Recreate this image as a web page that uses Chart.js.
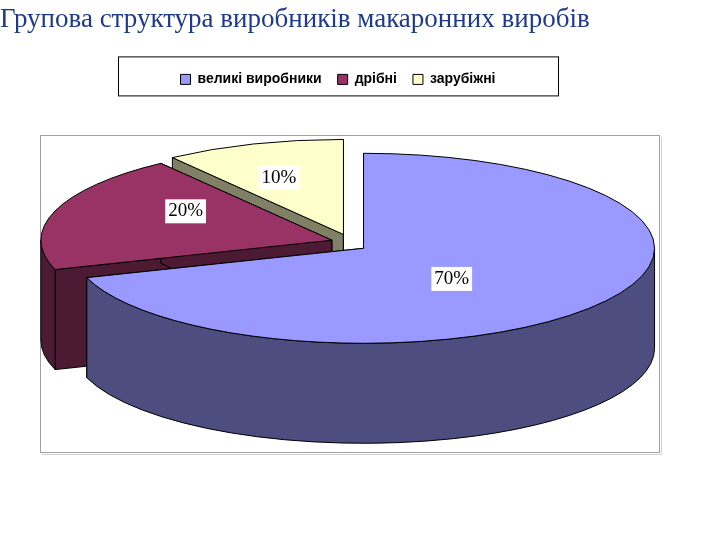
<!DOCTYPE html>
<html>
<head>
<meta charset="utf-8">
<script src="https://cdn.jsdelivr.net/npm/chart.js@4"></script>
<style>
  body { margin: 0; background: #fff; }
  #wrap { width: 720px; height: 540px; }
</style>
</head>
<body>
<div id="wrap"><canvas id="pie"></canvas></div>
<script>
// дані
const categories = ['великі виробники', 'дрібні', 'зарубіжні'];
const shares = [70, 20, 10];
const pctLabels = ['70%', '20%', '10%'];
const topColors = ['#9999FF', '#993366', '#FFFFCC'];
const sideColors = ['#4D4D80', '#4D1A33', '#808066'];

// геометрія "3D" еліпса
const geo = { cx: 349, cy: 243, rx: 291, ry: 95, depth: 100, explode: 18 };

function pt(a, cx, cy) {
    return [cx + geo.rx * Math.cos(a), cy + geo.ry * Math.sin(a)];
}

// рамка області побудови і легенди, малювання пирога
const framePlugin = {
    id: 'frame',
    beforeDraw(chart) {
        const ctx = chart.ctx;
        ctx.save();
        ctx.fillStyle = '#fff';
        ctx.fillRect(0, 0, chart.width, chart.height);
        ctx.strokeStyle = '#a0a0a0';
        ctx.lineWidth = 1;
        ctx.strokeRect(40.5, 135.5, 619, 317);
        ctx.strokeStyle = '#d0d0d0';
        ctx.beginPath();
        ctx.moveTo(42, 454.5); ctx.lineTo(661.5, 454.5); ctx.lineTo(661.5, 137);
        ctx.stroke();
        const lg = chart.legend;
        ctx.strokeStyle = '#000';
        ctx.strokeRect(118.5, lg.top + 0.5, 440, lg.height - 1);
        ctx.restore();
    },
    beforeDatasetDraw() { return false; },
    afterDraw(chart) {
        const ctx = chart.ctx;
        const arcs = chart.getDatasetMeta(0).data;
        const order = arcs.map((el, i) => i)
            .sort((a, b) => {
                const ma = (arcs[a].startAngle + arcs[a].endAngle) / 2;
                const mb = (arcs[b].startAngle + arcs[b].endAngle) / 2;
                return Math.sin(ma) - Math.sin(mb);
            });
        ctx.save();
        ctx.lineWidth = 1;
        ctx.strokeStyle = '#000';
        order.forEach(i => {
            const el = arcs[i];
            const s = el.startAngle, e = el.endAngle, m = (s + e) / 2;
            const cx = geo.cx + geo.explode * Math.cos(m);
            const cy = geo.cy + geo.explode * 0.5 * Math.sin(m);
            const d = geo.depth;
            ctx.fillStyle = sideColors[i];
            [s, e].forEach(a => {
                const p = pt(a, cx, cy);
                ctx.beginPath();
                ctx.moveTo(cx, cy); ctx.lineTo(p[0], p[1]);
                ctx.lineTo(p[0], p[1] + d); ctx.lineTo(cx, cy + d);
                ctx.closePath(); ctx.fill(); ctx.stroke();
            });
            const a0 = Math.max(s, 0), a1 = Math.min(e, Math.PI);
            if (a1 > a0) {
                ctx.beginPath();
                ctx.ellipse(cx, cy, geo.rx, geo.ry, 0, a0, a1);
                ctx.ellipse(cx, cy + d, geo.rx, geo.ry, 0, a1, a0, true);
                ctx.closePath(); ctx.fill(); ctx.stroke();
            }
            ctx.fillStyle = topColors[i];
            ctx.beginPath();
            ctx.moveTo(cx, cy);
            ctx.ellipse(cx, cy, geo.rx, geo.ry, 0, s, e);
            ctx.closePath(); ctx.fill(); ctx.stroke();
        });
        // підписи
        ctx.font = '19px "Liberation Serif", "Times New Roman", serif';
        ctx.textAlign = 'center';
        ctx.textBaseline = 'middle';
        const lblOffsets = [[-15, 8], [-25, -17], [-25, -20]];
        arcs.forEach((el, i) => {
            const m = (el.startAngle + el.endAngle) / 2;
            const x = geo.cx + 0.5 * geo.rx * Math.cos(m) + lblOffsets[i][0];
            const y = geo.cy + 0.5 * geo.ry * Math.sin(m) + lblOffsets[i][1];
            const w = ctx.measureText(pctLabels[i]).width + 6;
            ctx.fillStyle = '#fff';
            ctx.fillRect(x - w / 2, y - 12, w, 24);
            ctx.fillStyle = '#000';
            ctx.fillText(pctLabels[i], x, y);
        });
        ctx.restore();
    }
};

new Chart(document.getElementById('pie'), {
    type: 'pie',
    data: {
        labels: categories,
        datasets: [{
            data: shares,
            backgroundColor: topColors,
            borderColor: '#000',
            borderWidth: 1
        }]
    },
    options: {
        responsive: true,
        maintainAspectRatio: false,
        animation: false,
        layout: { padding: { left: 0, right: 44, bottom: 80 } },
        plugins: {
            title: {
                display: true,
                text: 'Групова структура виробників макаронних виробів',
                color: '#1F3A8A',
                font: { family: '"Liberation Serif", "Times New Roman", serif', size: 27, weight: 'normal' },
                padding: { top: 4, bottom: 20 },
                align: 'start'
            },
            legend: {
                position: 'top',
                labels: {
                    color: '#000',
                    boxWidth: 10,
                    boxHeight: 10,
                    padding: 16,
                    font: { family: '"Liberation Sans", Arial, sans-serif', size: 14, weight: 'bold' }
                }
            },
            tooltip: { enabled: false }
        }
    },
    plugins: [framePlugin]
});
</script>
</body>
</html>
